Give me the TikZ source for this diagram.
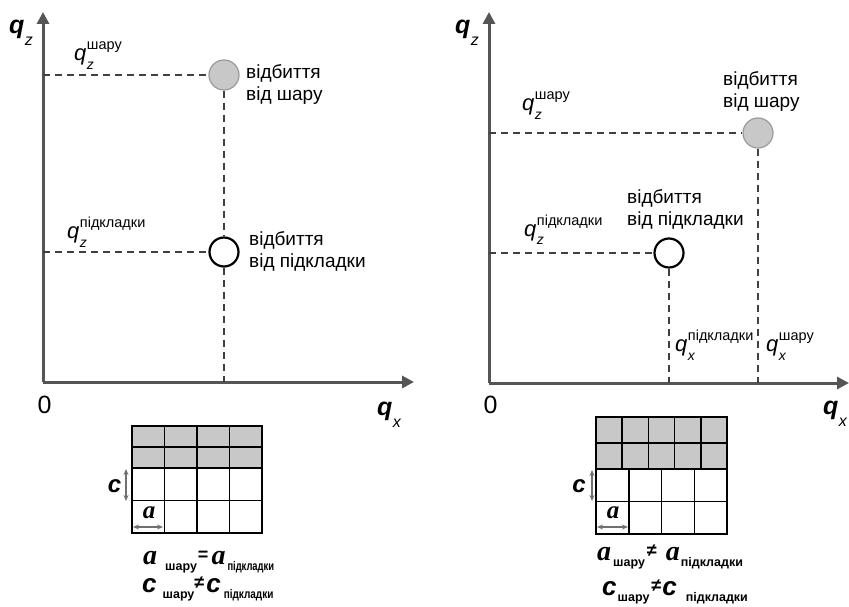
\documentclass[tikz,border=0pt]{standalone}
\usepackage{fontspec}
\setmainfont{Liberation Sans}
\newfontfamily\serifface{Liberation Serif}
\usetikzlibrary{arrows.meta}

\definecolor{axisgray}{HTML}{555555}
\definecolor{dashgray}{HTML}{404040}
\definecolor{spotgray}{HTML}{C8C8C8}
\definecolor{spotedge}{HTML}{9A9A9A}
\definecolor{cellgray}{HTML}{C8C8C8}
\definecolor{dimgray}{HTML}{707070}

% q with a lower index and an upper label
\newcommand\qlabel[2]{{\fontsize{22}{22}\selectfont\itshape q}\kern0.5pt\rlap{\raisebox{-9pt}{\fontsize{14}{14}\selectfont\itshape #1}}\raisebox{11pt}{\fontsize{14.5}{14.5}\selectfont #2}}
% bold axis name
\newcommand\axlabel[1]{{\fontsize{25}{25}\selectfont\bfseries\itshape q}\kern0.5pt\raisebox{-12pt}{\fontsize{16}{16}\selectfont\itshape #1}}
% lattice relation pieces
\newcommand\lsub[2][1]{\raisebox{-6pt}{\scalebox{#1}[1]{\fontsize{12.5}{12.5}\selectfont\bfseries #2}}}
\newcommand\lrel[1]{\raisebox{3.5pt}{\fontsize{18}{18}\selectfont\bfseries #1}}
\newcommand\la{{\serifface\fontsize{28}{28}\selectfont\bfseries\itshape a}}
\newcommand\lc{{\fontsize{26}{26}\selectfont\bfseries\itshape c}}

\tikzset{
  axis/.style={draw=axisgray, line width=3pt, -{Triangle[length=12pt,width=12pt]}},
  dline/.style={draw=dashgray, line width=1.2pt, dash pattern=on 7pt off 5pt},
  layerspot/.style={circle, minimum size=30pt, inner sep=0pt, fill=spotgray, draw=spotedge, line width=1.2pt},
  subspot/.style={circle, minimum size=29pt, inner sep=0pt, fill=white, draw=black, line width=2.2pt},
  txt/.style={font=\fontsize{19}{22}\selectfont, align=left, inner sep=0pt, anchor=north west},
  qtxt/.style={inner sep=0pt, anchor=base west},
  cell/.style={draw=black, line width=1.5pt},
  dimarrow/.style={draw=dimgray, line width=1.3pt, {Stealth[length=6pt,width=5pt]}-{Stealth[length=6pt,width=5pt]}},
  rel/.style={inner sep=0pt, anchor=base west},
  clab/.style={inner sep=0pt, anchor=base, font=\fontsize{24}{24}\selectfont\bfseries\itshape},
  alab/.style={inner sep=0pt, anchor=base, font=\serifface\fontsize{25}{25}\selectfont\bfseries\itshape},
}

\begin{document}
\begin{tikzpicture}[x=1pt,y=-1pt]
\useasboundingbox (0,0) rectangle (849,607);

%%% left diagram: same in-plane period
\coordinate (Lo) at (43,382);
\coordinate (Ltop) at (43,12);
\coordinate (Lright) at (414,382);
\draw[axis] (Lo) -- (Ltop);
\draw[axis] (Lo) -- (Lright);
\node[qtxt] (Lqz) at (9,34) {\axlabel{z}};
\node[qtxt] (Lqx) at (377,415) {\axlabel{x}};
\node[inner sep=0pt, anchor=base, font=\fontsize{25}{25}\selectfont] (L0) at (44.5,413) {0};

\node[layerspot] (Lspot1) at (224,75) {};
\node[subspot] (Lspot2) at (224,252) {};
\coordinate (Lh1) at (43,75);
\coordinate (Lh2) at (43,252);
\coordinate (Lv) at (224,382);
\draw[dline] (Lh1) -- (Lspot1.west);
\draw[dline] (Lh2) -- (Lspot2.west);
\draw[dline] (Lspot1.south) -- (Lspot2.north);
\draw[dline] (Lspot2.south) -- (Lv);

\node[qtxt] (Lql) at (74,61) {\qlabel{z}{шару}};
\node[qtxt] (Lqs) at (67,238) {\qlabel{z}{підкладки}};
\node[txt] (Lt1) at (246,64) {відбиття\\від шару};
\node[txt] (Lt2) at (249,231) {відбиття\\від підкладки};

% left lattice
\foreach \i in {0,...,3} {
  \draw[cell, fill=cellgray] (132+\i*32.5,426) rectangle ++(32.5,21);
  \draw[cell, fill=cellgray] (132+\i*32.5,447) rectangle ++(32.5,21);
  \draw[cell] (132+\i*32.5,468) rectangle ++(32.5,32.5);
  \draw[cell] (132+\i*32.5,500.5) rectangle ++(32.5,32.5);
}
\coordinate (Lc1) at (126,469);
\coordinate (Lc2) at (126,501);
\draw[dimarrow] (Lc1) -- (Lc2);
\coordinate (La1) at (133,527);
\coordinate (La2) at (163,527);
\draw[dimarrow] (La1) -- (La2);
\node[clab] (Lcl) at (114.5,492) {c};
\node[alab] (Lal) at (149,518) {a};
\node[rel] (Lr1) at (143,564) {\la\kern8pt\lsub{шару}\kern1pt\lrel{=}\kern3pt\la\kern2pt\lsub[0.75]{підкладки}};
\node[rel] (Lr2) at (142,592) {\lc\kern6pt\lsub{шару}\kern0pt\lrel{≠}\kern2pt\lc\kern3pt\lsub[0.8]{підкладки}};

%%% right diagram: different in-plane period
\coordinate (Ro) at (489,383);
\coordinate (Rtop) at (489,12);
\coordinate (Rright) at (849,383);
\draw[axis] (Ro) -- (Rtop);
\draw[axis] (Ro) -- (Rright);
\node[qtxt] (Rqz) at (455,34) {\axlabel{z}};
\node[qtxt] (Rqx) at (823,414) {\axlabel{x}};
\node[inner sep=0pt, anchor=base, font=\fontsize{25}{25}\selectfont] (R0) at (490.5,413) {0};

\node[layerspot] (Rspot1) at (758,133) {};
\node[subspot] (Rspot2) at (669,253) {};
\coordinate (Rh1) at (489,133);
\coordinate (Rh2) at (489,253);
\coordinate (Rv1) at (758,383);
\coordinate (Rv2) at (669,383);
\draw[dline] (Rh1) -- (Rspot1.west);
\draw[dline] (Rh2) -- (Rspot2.west);
\draw[dline] (Rspot1.south) -- (Rv1);
\draw[dline] (Rspot2.south) -- (Rv2);

\node[qtxt] (Rql) at (522,111) {\qlabel{z}{шару}};
\node[qtxt] (Rqs) at (524,236) {\qlabel{z}{підкладки}};
\node[qtxt] (Rxs) at (675,351) {\qlabel{x}{підкладки}};
\node[qtxt] (Rxl) at (766,351) {\qlabel{x}{шару}};
\node[txt] (Rt1) at (723,71) {відбиття\\від шару};
\node[txt] (Rt2) at (627,189) {відбиття\\від підкладки};

% right lattice
\foreach \i in {0,...,4} {
  \draw[cell, fill=cellgray] (596+\i*26.2,417) rectangle ++(26.2,26);
  \draw[cell, fill=cellgray] (596+\i*26.2,443) rectangle ++(26.2,26);
}
\foreach \i in {0,...,3} {
  \draw[cell] (596+\i*32.75,469) rectangle ++(32.75,32.5);
  \draw[cell] (596+\i*32.75,501.5) rectangle ++(32.75,32.5);
}
\coordinate (Rc1) at (592,470);
\coordinate (Rc2) at (592,501);
\draw[dimarrow] (Rc1) -- (Rc2);
\coordinate (Ra1) at (597,527);
\coordinate (Ra2) at (628,527);
\draw[dimarrow] (Ra1) -- (Ra2);
\node[clab] (Rcl) at (579,492) {c};
\node[alab] (Ral) at (613,518) {a};
\node[rel] (Rr1) at (597,560) {\la\kern2pt\lsub{шару}\kern2pt\lrel{≠}\kern9pt\la\kern1pt\lsub{підкладки}};
\node[rel] (Rr2) at (602,595) {\lc\kern1pt\lsub{шару}\kern2pt\lrel{≠}\kern1pt\lc\kern9pt\lsub{підкладки}};
\end{tikzpicture}
\end{document}
